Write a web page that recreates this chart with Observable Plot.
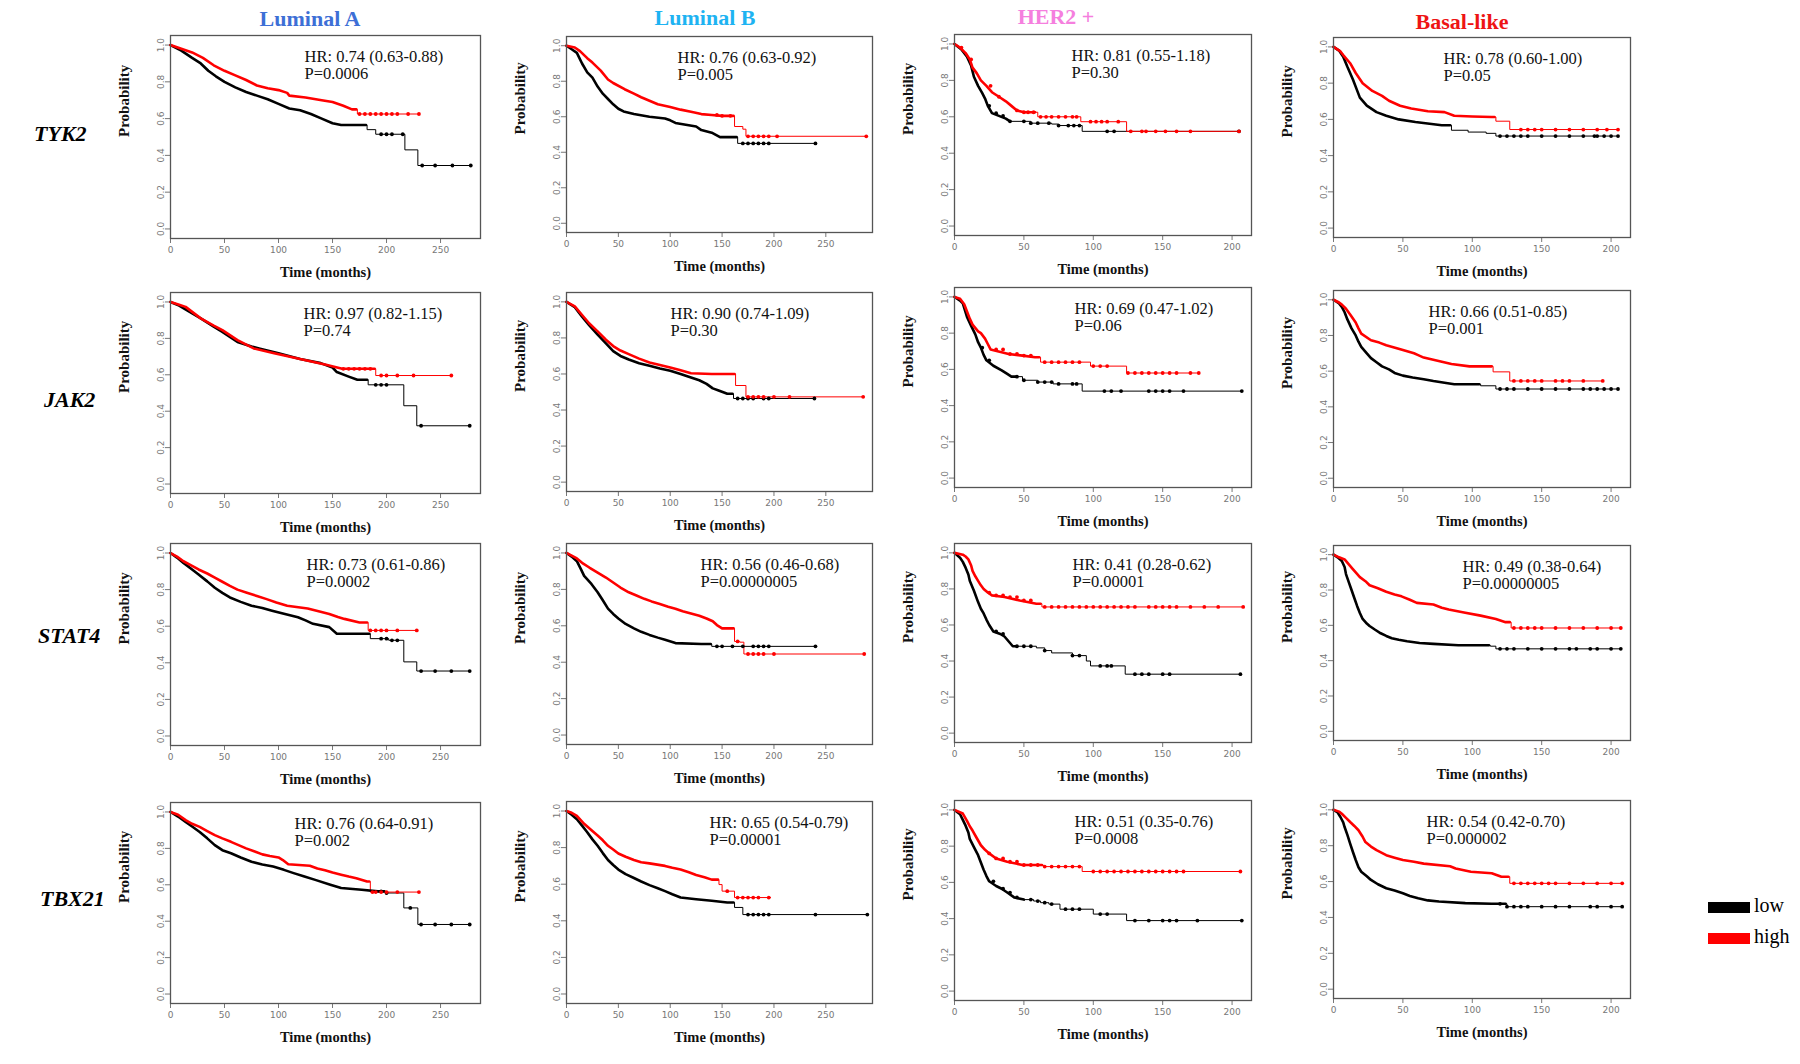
<!DOCTYPE html>
<html><head><meta charset="utf-8">
<script src="https://cdn.jsdelivr.net/npm/d3@7"></script>
<script src="https://cdn.jsdelivr.net/npm/@observablehq/plot@0.6"></script>
<style>
body{margin:0;background:#fff;}
#root{position:relative;width:1800px;height:1064px;overflow:hidden;background:#fff;font-family:"Liberation Serif","Times New Roman",serif;}
.abs{position:absolute;}
.title{font-weight:bold;font-size:22px;transform:translate(-50%,-50%);white-space:nowrap;}
.gene{font-weight:bold;font-style:italic;font-size:22px;transform:translate(0,-50%);white-space:nowrap;}
.leg{font-size:20px;transform:translate(0,-50%);}
</style></head><body><div id="root"></div>
<script>
// ---------------- data ----------------
const subtypes = ["Luminal A","Luminal B","HER2 +","Basal-like"];
const genes = ["TYK2","JAK2","STAT4","TBX21"];
const groups = ["low","high"];
const xTickValues = [[0,50,100,150,200,250],[0,50,100,150,200,250],[0,50,100,150,200],[0,50,100,150,200]];
const yTickValues = [0,0.2,0.4,0.6,0.8,1.0];
const xMaxMonths = [287,295,214,214];

const hrLabels = [
  ["HR: 0.74 (0.63-0.88)","HR: 0.76 (0.63-0.92)","HR: 0.81 (0.55-1.18)","HR: 0.78 (0.60-1.00)"],
  ["HR: 0.97 (0.82-1.15)","HR: 0.90 (0.74-1.09)","HR: 0.69 (0.47-1.02)","HR: 0.66 (0.51-0.85)"],
  ["HR: 0.73 (0.61-0.86)","HR: 0.56 (0.46-0.68)","HR: 0.41 (0.28-0.62)","HR: 0.49 (0.38-0.64)"],
  ["HR: 0.76 (0.64-0.91)","HR: 0.65 (0.54-0.79)","HR: 0.51 (0.35-0.76)","HR: 0.54 (0.42-0.70)"]
];
const pLabels = [
  ["P=0.0006","P=0.005","P=0.30","P=0.05"],
  ["P=0.74","P=0.30","P=0.06","P=0.001"],
  ["P=0.0002","P=0.00000005","P=0.00001","P=0.00000005"],
  ["P=0.002","P=0.00001","P=0.0008","P=0.000002"]
];

// survival steps [months, probability]; one list per subtype (Luminal A, Luminal B, HER2 +, Basal-like)
const TYK2_low = [
  [[0,1],[10,0.97],[20,0.93],[28,0.90],[35,0.86],[42,0.83],[50,0.80],[60,0.77],[70,0.745],[80,0.725],[90,0.705],[100,0.68],[110,0.655],[120,0.645],[130,0.625],[140,0.60],[150,0.575],[158,0.565],[182,0.54],[190,0.515],[217,0.43],[229,0.345],[278,0.345]],
  [[0,1],[5,0.98],[10,0.96],[15,0.90],[20,0.85],[25,0.82],[30,0.77],[35,0.73],[40,0.70],[45,0.67],[50,0.645],[55,0.63],[65,0.615],[80,0.60],[95,0.59],[100,0.58],[105,0.565],[115,0.555],[125,0.545],[130,0.525],[140,0.51],[148,0.485],[165,0.45],[240,0.45]],
  [[0,1],[5,0.97],[9,0.93],[12,0.88],[14,0.82],[17,0.77],[20,0.73],[22,0.70],[24,0.66],[27,0.62],[32,0.605],[37,0.59],[40,0.575],[55,0.565],[70,0.56],[75,0.552],[92,0.52],[205,0.52]],
  [[0,1],[4,0.98],[7,0.946],[10,0.89],[14,0.82],[17,0.76],[19,0.72],[24,0.676],[31,0.64],[38,0.62],[47,0.60],[59,0.586],[78,0.568],[85,0.54],[97,0.53],[110,0.523],[117,0.508],[205,0.508]]
];
const TYK2_high = [
  [[0,1],[10,0.98],[20,0.96],[30,0.93],[40,0.89],[50,0.86],[60,0.835],[70,0.81],[80,0.78],[90,0.765],[100,0.755],[108,0.74],[110,0.725],[125,0.715],[140,0.70],[150,0.69],[160,0.67],[168,0.65],[173,0.625],[230,0.625]],
  [[0,1],[8,0.99],[13,0.97],[20,0.93],[25,0.905],[33,0.86],[40,0.81],[45,0.79],[56,0.755],[65,0.73],[72,0.71],[80,0.69],[88,0.67],[100,0.655],[110,0.64],[120,0.628],[130,0.615],[140,0.61],[150,0.605],[162,0.545],[170,0.53],[173,0.49],[289,0.49]],
  [[0,1],[4,0.98],[8,0.95],[11,0.915],[13,0.87],[16,0.84],[19,0.80],[23,0.77],[27,0.735],[32,0.71],[37,0.685],[41,0.66],[45,0.635],[50,0.625],[60,0.60],[91,0.573],[124,0.52],[205,0.52]],
  [[0,1],[5,0.975],[7,0.955],[12,0.91],[16,0.856],[21,0.80],[28,0.757],[35,0.73],[40,0.703],[48,0.675],[56,0.66],[68,0.645],[80,0.64],[87,0.62],[100,0.616],[114,0.613],[117,0.59],[127,0.544],[205,0.544]]
];
const JAK2_low = [
  [[0,1],[8,0.98],[15,0.955],[28,0.91],[40,0.865],[48,0.836],[62,0.78],[75,0.755],[82,0.745],[100,0.718],[120,0.687],[139,0.664],[150,0.64],[154,0.615],[165,0.59],[173,0.573],[183,0.545],[216,0.43],[228,0.32],[277,0.32]],
  [[0,1],[8,0.97],[15,0.918],[22,0.87],[30,0.818],[38,0.77],[45,0.727],[52,0.70],[60,0.68],[70,0.66],[80,0.645],[90,0.63],[100,0.618],[110,0.60],[120,0.58],[128,0.565],[135,0.545],[141,0.52],[146,0.51],[155,0.49],[161,0.464],[239,0.464]],
  [[0,1],[4,0.98],[6,0.964],[9,0.89],[12,0.84],[15,0.793],[17,0.75],[19,0.72],[21,0.68],[23,0.65],[28,0.62],[34,0.595],[38,0.575],[41,0.56],[49,0.54],[60,0.53],[71,0.52],[92,0.48],[207,0.48]],
  [[0,1],[4,0.98],[6,0.96],[8,0.93],[10,0.89],[13,0.84],[16,0.80],[18,0.765],[20,0.736],[24,0.70],[27,0.673],[31,0.65],[35,0.627],[40,0.61],[44,0.59],[50,0.575],[57,0.564],[65,0.555],[72,0.545],[80,0.535],[87,0.527],[106,0.518],[117,0.50],[205,0.50]]
];
const JAK2_high = [
  [[0,1],[8,0.985],[14,0.973],[28,0.91],[40,0.87],[48,0.845],[62,0.79],[77,0.745],[96,0.718],[120,0.687],[144,0.655],[159,0.633],[190,0.596],[260,0.596]],
  [[0,1],[8,0.975],[15,0.927],[22,0.88],[30,0.836],[38,0.79],[45,0.755],[52,0.73],[60,0.71],[70,0.685],[80,0.664],[90,0.65],[100,0.636],[110,0.62],[120,0.604],[140,0.60],[163,0.536],[173,0.473],[286,0.473]],
  [[0,1],[4,0.99],[7,0.96],[9,0.92],[11,0.88],[13,0.847],[17,0.81],[19,0.80],[22,0.77],[24,0.74],[26,0.71],[39,0.685],[49,0.676],[58,0.667],[62,0.64],[98,0.618],[124,0.58],[176,0.58]],
  [[0,1],[4,0.985],[6,0.973],[9,0.95],[12,0.918],[16,0.873],[18,0.84],[20,0.81],[27,0.773],[33,0.76],[38,0.745],[45,0.73],[50,0.718],[58,0.70],[61,0.69],[65,0.676],[85,0.64],[98,0.627],[115,0.596],[127,0.545],[194,0.545]]
];
const STAT4_low = [
  [[0,1],[6,0.975],[12,0.946],[20,0.91],[26,0.883],[34,0.845],[41,0.81],[48,0.782],[55,0.757],[65,0.733],[75,0.712],[85,0.70],[94,0.685],[105,0.668],[118,0.649],[125,0.632],[132,0.613],[147,0.595],[154,0.559],[185,0.532],[202,0.523],[216,0.405],[228,0.355],[277,0.355]],
  [[0,1],[5,0.98],[10,0.955],[14,0.91],[17,0.874],[24,0.83],[30,0.784],[35,0.74],[40,0.694],[45,0.665],[50,0.64],[57,0.61],[65,0.586],[72,0.567],[80,0.55],[88,0.535],[95,0.523],[105,0.505],[130,0.50],[140,0.487],[240,0.487]],
  [[0,1],[4,0.973],[6,0.95],[8,0.918],[10,0.88],[11,0.845],[14,0.79],[17,0.727],[19,0.69],[21,0.664],[23,0.63],[25,0.60],[28,0.564],[33,0.55],[36,0.536],[40,0.50],[42,0.482],[59,0.473],[65,0.458],[70,0.445],[85,0.43],[95,0.40],[98,0.373],[123,0.327],[206,0.327]],
  [[0,1],[3,0.985],[6,0.964],[8,0.93],[9,0.89],[11,0.845],[13,0.80],[15,0.755],[17,0.71],[19,0.67],[21,0.636],[24,0.61],[26,0.596],[30,0.575],[34,0.555],[38,0.54],[42,0.527],[47,0.518],[53,0.51],[62,0.50],[72,0.495],[90,0.487],[113,0.482],[117,0.467],[207,0.467]]
];
const STAT4_high = [
  [[0,1],[6,0.98],[12,0.955],[20,0.93],[26,0.91],[34,0.888],[41,0.865],[48,0.843],[55,0.82],[62,0.80],[70,0.784],[80,0.765],[89,0.748],[98,0.73],[108,0.712],[127,0.697],[138,0.68],[147,0.667],[155,0.65],[161,0.64],[175,0.62],[183,0.577],[229,0.577]],
  [[0,1],[5,0.985],[10,0.97],[15,0.946],[22,0.92],[30,0.892],[38,0.865],[45,0.838],[52,0.81],[60,0.784],[68,0.765],[75,0.748],[82,0.734],[90,0.72],[98,0.705],[105,0.694],[112,0.68],[120,0.667],[128,0.655],[135,0.64],[141,0.625],[145,0.604],[150,0.586],[162,0.514],[167,0.51],[171,0.445],[287,0.445]],
  [[0,1],[6,0.99],[8,0.98],[10,0.964],[12,0.93],[13,0.90],[15,0.87],[17,0.845],[19,0.82],[21,0.80],[24,0.78],[27,0.764],[36,0.755],[47,0.736],[59,0.718],[63,0.70],[208,0.70]],
  [[0,1],[4,0.985],[8,0.973],[13,0.927],[16,0.90],[19,0.873],[23,0.85],[26,0.827],[32,0.81],[38,0.79],[44,0.775],[49,0.764],[55,0.745],[60,0.727],[72,0.718],[78,0.70],[83,0.69],[94,0.673],[106,0.655],[117,0.636],[124,0.618],[128,0.585],[207,0.585]]
];
const TBX21_low = [
  [[0,1],[7,0.975],[14,0.945],[20,0.92],[27,0.89],[34,0.855],[41,0.818],[48,0.79],[56,0.773],[65,0.75],[75,0.727],[85,0.712],[95,0.70],[105,0.682],[114,0.664],[124,0.645],[134,0.627],[148,0.60],[158,0.582],[177,0.573],[192,0.564],[199,0.555],[216,0.473],[229,0.382],[278,0.382]],
  [[0,1],[5,0.98],[10,0.955],[15,0.92],[20,0.884],[25,0.845],[30,0.81],[35,0.77],[40,0.732],[45,0.705],[50,0.68],[57,0.655],[65,0.634],[72,0.615],[80,0.595],[88,0.578],[95,0.562],[102,0.545],[110,0.527],[125,0.518],[140,0.51],[155,0.50],[162,0.473],[170,0.434],[290,0.434]],
  [[0,1],[4,0.976],[6,0.945],[8,0.913],[10,0.875],[11,0.84],[14,0.795],[17,0.75],[19,0.71],[21,0.67],[23,0.635],[25,0.606],[30,0.58],[34,0.565],[38,0.544],[43,0.517],[50,0.505],[57,0.497],[62,0.488],[68,0.48],[76,0.452],[100,0.425],[124,0.389],[207,0.389]],
  [[0,1],[3,0.985],[5,0.96],[7,0.93],[8,0.904],[10,0.86],[12,0.812],[14,0.765],[16,0.72],[18,0.68],[20,0.655],[24,0.63],[27,0.609],[32,0.585],[38,0.563],[44,0.55],[50,0.535],[55,0.52],[61,0.507],[68,0.495],[76,0.489],[95,0.48],[114,0.476],[125,0.46],[208,0.46]]
];
const TBX21_high = [
  [[0,1],[7,0.985],[14,0.955],[20,0.935],[27,0.918],[34,0.895],[41,0.873],[48,0.855],[56,0.836],[63,0.818],[70,0.80],[78,0.783],[85,0.767],[92,0.758],[100,0.75],[104,0.736],[109,0.713],[129,0.705],[136,0.69],[143,0.68],[150,0.667],[158,0.655],[165,0.645],[172,0.636],[182,0.618],[185,0.56],[231,0.56]],
  [[0,1],[5,0.99],[10,0.973],[17,0.93],[23,0.90],[30,0.866],[35,0.84],[40,0.81],[45,0.79],[50,0.768],[57,0.75],[65,0.732],[72,0.72],[80,0.714],[95,0.70],[102,0.69],[110,0.68],[118,0.665],[125,0.65],[133,0.638],[140,0.625],[147,0.598],[150,0.562],[162,0.527],[197,0.527]],
  [[0,1],[6,0.98],[9,0.94],[11,0.91],[13,0.886],[16,0.845],[19,0.805],[22,0.78],[25,0.76],[30,0.732],[38,0.714],[49,0.696],[64,0.687],[92,0.66],[206,0.66]],
  [[0,1],[4,0.99],[6,0.978],[9,0.955],[12,0.932],[15,0.91],[18,0.886],[21,0.85],[23,0.82],[27,0.795],[31,0.775],[38,0.747],[44,0.733],[50,0.72],[58,0.71],[65,0.70],[84,0.685],[88,0.673],[99,0.655],[114,0.646],[121,0.627],[127,0.59],[208,0.59]]
];

// censored observations (months) visible as separate marks
const TYK2_lowCensor = [[195,200,205,215,233,245,261,278],[170,175,180,185,190,195,240],[25,30,35,40,50,55,60,68,75,82,86,90,110,115,205],[120,125,130,135,140,150,160,170,180,188,190,195,200,205]];
const TYK2_highCensor = [[175,180,185,190,195,200,205,210,220,230],[145,150,158,175,180,185,190,195,203,289],[5,12,26,32,45,50,53,57,62,66,70,75,80,85,88,98,102,106,110,118,127,135,138,145,152,160,170,205],[135,140,145,150,160,170,180,190,197,205]];
const JAK2_lowCensor = [[190,195,200,232,277],[165,170,175,180,190,195,239],[20,25,45,50,60,65,70,75,85,88,108,113,120,140,145,150,155,165,207],[120,125,130,140,150,160,170,180,185,190,195,200,205]];
const JAK2_highCensor = [[160,165,170,175,180,185,195,200,210,225,260],[175,180,185,190,200,215,286],[30,35,40,45,50,55,65,70,75,80,85,90,100,105,110,125,130,135,140,145,150,155,160,170,176],[130,135,140,145,150,160,165,170,180,194]];
const STAT4_lowCensor = [[195,200,205,210,232,245,260,277],[145,150,160,170,180,185,190,195,240],[30,35,45,50,55,65,85,90,105,110,113,130,135,140,150,155,206],[120,125,130,140,150,160,170,175,185,190,200,207]];
const STAT4_highCensor = [[185,190,195,200,210,228],[165,175,180,185,190,200,287],[25,30,35,40,45,50,55,65,70,75,80,85,90,95,100,105,110,115,120,125,130,140,145,150,155,160,170,180,190,208],[130,135,140,145,150,160,170,180,190,200,207]];
const TBX21_lowCensor = [[195,200,222,232,245,260,277],[175,180,185,190,195,240,290],[28,35,40,45,55,60,65,70,80,85,90,105,110,130,140,150,155,160,175,207],[120,125,130,135,140,150,160,170,185,190,200,208]];
const TBX21_highCensor = [[187,190,195,200,210,230],[155,165,170,175,180,185,195],[25,30,35,40,45,50,55,60,65,70,75,80,85,90,100,105,110,115,120,125,130,135,140,145,150,155,160,165,206],[130,135,140,145,150,155,160,170,180,190,200,208]];

// time up to which events/censor marks are packed into a solid band
const denseLow = [[181,164,40,84],[182,160,45,105],[184,139,45,112],[198,161,50,124]];
const denseHigh = [[172,161,58,116],[189,162,61,114],[182,161,62,127],[184,146,63,126]];

// ---------------- layout ----------------
const colLeft = [170,566,954,1333];
const colWidth = [310,306,297,297];
const boxTop = [[35,36,34,37],[292,292,287,290],[543,543,543,545],[802,801,800,800]];
const boxH = [[203,196,201,200],[201,199,200,197],[202,201,199,195],[201,202,200,198]];
const hrDx = [[134,111,117,110],[133,104,120,95],[136,134,118,129],[124,143,120,93]];
const titleX = [310,705,1056,1462], titleY = [19,18,17,22];
const titleColor = ["#3d6fd6","#1eb3f2","#f57fde","#ee1414"];
const geneX = [34,44,38,40], geneY = [134,400,636,899];

const lowSets = [TYK2_low, JAK2_low, STAT4_low, TBX21_low];
const highSets = [TYK2_high, JAK2_high, STAT4_high, TBX21_high];
const lowCens = [TYK2_lowCensor, JAK2_lowCensor, STAT4_lowCensor, TBX21_lowCensor];
const highCens = [TYK2_highCensor, JAK2_highCensor, STAT4_highCensor, TBX21_highCensor];

const root = document.getElementById("root");
function addDiv(cls, text, x, y, css) {
  const d = document.createElement("div");
  d.className = "abs " + cls; d.textContent = text;
  d.style.left = x + "px"; d.style.top = y + "px";
  Object.assign(d.style, css || {});
  root.appendChild(d); return d;
}
function stepAt(curve, t) {
  let v = curve[0][1];
  for (const [tt, s] of curve) { if (tt <= t) v = s; else break; }
  return v;
}

const ML = 64, MR = 4, MT = 4, MB = 52;
for (let g = 0; g < 4; g++) {
  for (let c = 0; c < 4; c++) {
    const curves = {low: lowSets[g][c], high: highSets[g][c]};
    const dense = {low: denseLow[g][c], high: denseHigh[g][c]};
    const cens = {low: lowCens[g][c], high: highCens[g][c]};
    const denseRows = [], tailRows = [], censRows = [];
    for (const grp of groups) {
      const pts = curves[grp];
      const d = dense[grp];
      const dv = stepAt(pts, d);
      for (const [t, s] of pts) if (t < d) denseRows.push({grp, t, s});
      denseRows.push({grp, t: d, s: dv});
      tailRows.push({grp, t: d, s: dv});
      for (const [t, s] of pts) if (t > d) tailRows.push({grp, t, s});
      for (const t of cens[grp]) censRows.push({grp, t, s: stepAt(pts, t)});
    }
    const W = colWidth[c], H = boxH[g][c];
    const plot = Plot.plot({
      width: W + ML + MR, height: H + MT + MB,
      marginLeft: ML, marginRight: MR, marginTop: MT, marginBottom: MB,
      x: {domain: [0, xMaxMonths[c]]},
      y: {domain: [-0.052, 1.052]},
      color: {domain: groups, range: ["#000000", "#ff0000"]},
      style: {fontFamily: "'Liberation Serif', serif", background: "transparent", overflow: "visible"},
      marks: [
        Plot.axisX({ticks: xTickValues[c], tickFormat: d => String(d), tickSize: 5, tickPadding: 3, fontSize: 9, color: "#777", label: null, fontFamily: "DejaVu Sans"}),
        Plot.axisY({ticks: yTickValues, tickFormat: d3.format(".1f"), tickRotate: -90, tickSize: 5, tickPadding: 2, fontSize: 9, color: "#777", label: null, fontFamily: "DejaVu Sans"}),
        Plot.line(tailRows, {x: "t", y: "s", z: "grp", stroke: "grp", curve: "step-after", strokeWidth: 1}),
        Plot.line(denseRows, {x: "t", y: "s", z: "grp", stroke: "grp", curve: "linear", strokeWidth: 2.6, strokeLinejoin: "round"}),
        Plot.dot(censRows, {x: "t", y: "s", fill: "grp", r: 1.9}),
        Plot.frame({stroke: "#555", strokeWidth: 1.3}),
        Plot.text([hrLabels[g][c] + "\n" + pLabels[g][c]], {text: d => d, frameAnchor: "top-left", dx: hrDx[g][c], dy: 15, lineAnchor: "top", textAnchor: "start", fontSize: 16.5, lineHeight: 1.0, fill: "#111"}),
        Plot.text(["Probability"], {text: d => d, frameAnchor: "left", dx: -46, rotate: -90, fontSize: 15, fontWeight: "bold", fill: "#111"}),
        Plot.text(["Time (months)"], {text: d => d, frameAnchor: "bottom", dy: 38, fontSize: 14.5, fontWeight: "bold", fill: "#111"})
      ]
    });
    const holder = document.createElement("div");
    holder.className = "abs";
    holder.style.left = (colLeft[c] - ML) + "px";
    holder.style.top = (boxTop[g][c] - MT) + "px";
    holder.appendChild(plot);
    root.appendChild(holder);
  }
}

subtypes.forEach((s, i) => addDiv("title", s, titleX[i], titleY[i], {color: titleColor[i]}));
genes.forEach((s, i) => addDiv("gene", s, geneX[i], geneY[i]));

// legend
const legendColors = ["#000000", "#ff0000"];
groups.forEach((lab, i) => {
  addDiv("", "", 1708, 902 + i * 31, {width: "42px", height: "11px", background: legendColors[i]});
  addDiv("leg", lab, 1754, 905 + i * 31);
});
</script></body></html>
